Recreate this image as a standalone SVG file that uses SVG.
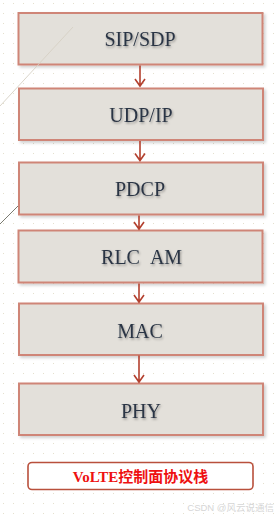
<svg xmlns="http://www.w3.org/2000/svg" width="279" height="517" viewBox="0 0 279 517">
<defs>
<pattern id="dots" x="3" y="3" width="10" height="10" patternUnits="userSpaceOnUse">
<rect x="0" y="0" width="1" height="1" fill="#e4e0cc"/>
</pattern>
<filter id="sh" x="-10%" y="-20%" width="130%" height="150%">
<feDropShadow dx="2" dy="2" stdDeviation="1.5" flood-color="#000" flood-opacity="0.18"/>
</filter>
<filter id="tsh" x="-10%" y="-30%" width="130%" height="170%">
<feDropShadow dx="1" dy="1.5" stdDeviation="1" flood-color="#000" flood-opacity="0.35"/>
</filter>
</defs>
<style>
.box{fill:#e3e0da;stroke:#cf8577;stroke-width:2;}
.lbl{font-family:"Liberation Serif","Noto Serif",serif;font-size:20px;fill:#2c3645;text-anchor:middle;}
.con{stroke:#b3402e;stroke-width:1.6;fill:none;stroke-linejoin:miter;}
</style>
<rect width="279" height="517" fill="#ffffff"/>
<rect width="279" height="517" fill="url(#dots)"/>
<line x1="0" y1="224" x2="29" y2="195" stroke="#7a7a70" stroke-width="1"/>
<g id="sipsdp">
<rect class="box" x="18.5" y="13" width="244" height="51.5" filter="url(#sh)"/>
<text class="lbl" x="140" y="46" filter="url(#tsh)">SIP/SDP</text>
</g>
<g id="udpip">
<rect class="box" x="19" y="88.5" width="244" height="51.5" filter="url(#sh)"/>
<text class="lbl" x="141" y="121.5" filter="url(#tsh)">UDP/IP</text>
</g>
<g id="pdcp">
<rect class="box" x="19" y="162.5" width="244" height="52" filter="url(#sh)"/>
<text class="lbl" x="140" y="196" filter="url(#tsh)">PDCP</text>
</g>
<g id="rlcam">
<rect class="box" x="18.5" y="230.5" width="244" height="52" filter="url(#sh)"/>
<text class="lbl" filter="url(#tsh)"><tspan x="120.5" y="263.5">RLC</tspan><tspan x="166" y="263.5">AM</tspan></text>
</g>
<g id="mac">
<rect class="box" x="19" y="303.5" width="244" height="51.5" filter="url(#sh)"/>
<text class="lbl" x="140" y="337.5" filter="url(#tsh)">MAC</text>
</g>
<g id="phy">
<rect class="box" x="19" y="383.5" width="244" height="51.5" filter="url(#sh)"/>
<text class="lbl" x="141" y="417.5" filter="url(#tsh)">PHY</text>
</g>
<line x1="0" y1="106" x2="73" y2="27" stroke="#d6d0c4" stroke-width="0.9"/>
<g id="connectors">
<path class="con" d="M140,65.5 V86 M135,79 L140,86 L145,79"/>
<path class="con" d="M140,141 V160.5 M135,153.5 L140,160.5 L145,153.5"/>
<path class="con" d="M139,215.5 V229 M134,222 L139,229 L144,222"/>
<path class="con" d="M139,283.5 V302 M134,295 L139,302 L144,295"/>
<path class="con" d="M139,355.5 V382 M134,375 L139,382 L144,375"/>
</g>
<g id="caption">
<rect x="28" y="462.5" width="225" height="27" rx="4" fill="#ffffff" stroke="#b9503c" stroke-width="1.6"/>
<text x="140.5" y="481.5" font-family="'Liberation Serif','Noto Sans CJK SC',serif" font-size="15" font-weight="bold" fill="#ee1111" text-anchor="middle">VoLTE控制面协议栈</text>
</g>
<text x="274" y="511" font-family="'Liberation Sans','Noto Sans CJK SC',sans-serif" font-size="9.5" fill="#d6d6d6" text-anchor="end">CSDN @风云说通信</text>
</svg>
